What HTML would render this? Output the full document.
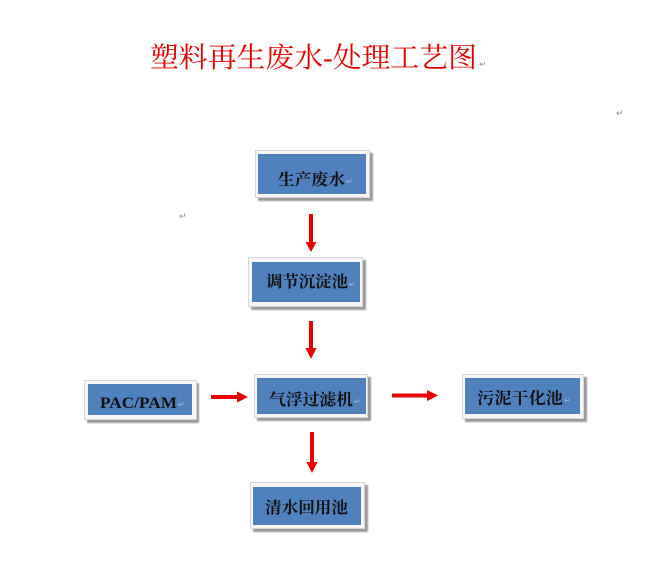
<!DOCTYPE html>
<html>
<head>
<meta charset="utf-8">
<style>
  html,body{margin:0;padding:0;background:#fff;}
  body{width:666px;height:578px;overflow:hidden;}
  svg{display:block;}
  .t{font-family:"Liberation Serif","Noto Serif CJK SC",serif;font-weight:bold;font-size:16px;fill:#111;}
  .ret{font-family:"Liberation Sans","DejaVu Sans",sans-serif;font-size:9px;fill:#8a8a8a;}
  .reti{font-family:"Liberation Sans","DejaVu Sans",sans-serif;font-size:8px;fill:#9fb6d6;}
</style>
</head>
<body>
<svg width="666" height="578" viewBox="0 0 666 578" xmlns="http://www.w3.org/2000/svg">
  <defs>
    <filter id="sh" x="-10%" y="-20%" width="130%" height="150%">
      <feGaussianBlur stdDeviation="0.8"/>
    </filter>
  </defs>

  <!-- Title -->
  <text x="150" y="67" font-family="'Liberation Serif','Noto Serif CJK SC',serif" font-size="28" fill="#e00000" textLength="327" lengthAdjust="spacingAndGlyphs">塑料再生废水-处理工艺图</text>
  <text class="ret" x="479" y="67">↵</text>
  <text class="ret" x="616" y="116">↵</text>
  <text class="ret" x="179" y="219">↵</text>

  <!-- Box 1: 生产废水 -->
  <rect x="258" y="153" width="115" height="48" fill="#9a9a9a" filter="url(#sh)"/>
  <rect x="255.5" y="150.5" width="114" height="47" fill="#f6f6f6" stroke="#d6d6d6" stroke-width="1"/>
  <rect x="258" y="154" width="108" height="40" fill="#4f81bd"/>
  <text class="t" x="278" y="185" textLength="67" lengthAdjust="spacingAndGlyphs">生产废水</text>
  <text class="reti" x="346" y="184">↵</text>

  <!-- Box 2: 调节沉淀池 -->
  <rect x="251" y="260" width="115" height="50" fill="#9a9a9a" filter="url(#sh)"/>
  <rect x="248.5" y="257.5" width="114" height="49" fill="#f6f6f6" stroke="#d6d6d6" stroke-width="1"/>
  <rect x="252" y="262" width="108" height="40" fill="#4f81bd"/>
  <text class="t" x="266" y="287" textLength="82" lengthAdjust="spacingAndGlyphs">调节沉淀池</text>
  <text class="reti" x="349" y="287">↵</text>

  <!-- Box 3: 气浮过滤机 -->
  <rect x="257" y="377" width="114" height="44" fill="#9a9a9a" filter="url(#sh)"/>
  <rect x="254.5" y="374.5" width="113" height="43" fill="#f6f6f6" stroke="#d6d6d6" stroke-width="1"/>
  <rect x="257" y="378" width="109" height="36" fill="#4f81bd"/>
  <text class="t" x="269" y="405" textLength="84" lengthAdjust="spacingAndGlyphs">气浮过滤机</text>
  <text class="reti" x="354" y="404">↵</text>

  <!-- Box 4: 清水回用池 -->
  <rect x="253" y="485" width="115" height="47" fill="#9a9a9a" filter="url(#sh)"/>
  <rect x="250.5" y="482.5" width="114" height="46" fill="#f6f6f6" stroke="#d6d6d6" stroke-width="1"/>
  <rect x="253" y="487" width="108" height="38" fill="#4f81bd"/>
  <text class="t" x="265" y="513" textLength="83" lengthAdjust="spacingAndGlyphs">清水回用池</text>

  <!-- PAC/PAM -->
  <rect x="87" y="383" width="112" height="40" fill="#9a9a9a" filter="url(#sh)"/>
  <rect x="84.5" y="380.5" width="112" height="39" fill="#f6f6f6" stroke="#d6d6d6" stroke-width="1"/>
  <rect x="88" y="384" width="104" height="31" fill="#4f81bd"/>
  <text x="100" y="408" font-family="'Liberation Serif',serif" font-weight="bold" font-size="16" fill="#111" textLength="77" lengthAdjust="spacingAndGlyphs">PAC/PAM</text>
  <text class="reti" x="178" y="407">↵</text>

  <!-- 污泥干化池 -->
  <rect x="465" y="377" width="122" height="45" fill="#9a9a9a" filter="url(#sh)"/>
  <rect x="462.5" y="374.5" width="121" height="44" fill="#f6f6f6" stroke="#d6d6d6" stroke-width="1"/>
  <rect x="465" y="378" width="115" height="36" fill="#4f81bd"/>
  <text class="t" x="477" y="403.5" textLength="86" lengthAdjust="spacingAndGlyphs">污泥干化池</text>
  <text class="reti" x="564" y="403">↵</text>

  <!-- Arrows -->
  <g fill="#e60000">
    <!-- A1 -->
    <rect x="309" y="214" width="4" height="29"/>
    <polygon points="305.5,242 316.5,242 311,252"/>
    <!-- A2 -->
    <rect x="309" y="321" width="4" height="28"/>
    <polygon points="305.5,348 316.5,348 311,359"/>
    <!-- A3 -->
    <rect x="310" y="432" width="4" height="31"/>
    <polygon points="306.5,462 317.5,462 312,473"/>
    <!-- H1 -->
    <rect x="211" y="395" width="27" height="4"/>
    <polygon points="237,391.5 237,402.5 248,397"/>
    <!-- H2 -->
    <rect x="392" y="393.5" width="36" height="4"/>
    <polygon points="427,390 427,401 438,395.5"/>
  </g>
</svg>
</body>
</html>
